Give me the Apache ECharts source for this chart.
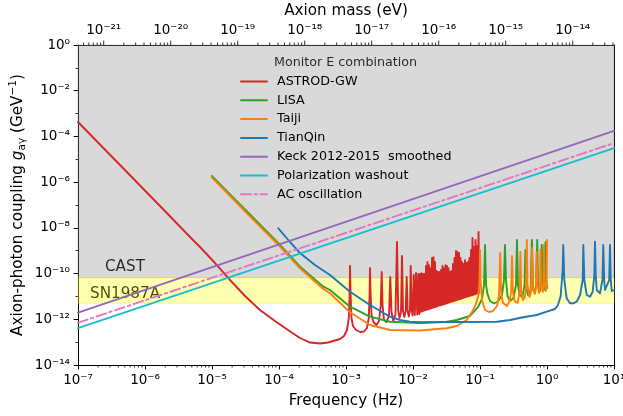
<!DOCTYPE html>
<html><head><meta charset="utf-8">
<script src="https://cdn.jsdelivr.net/npm/echarts@6/dist/echarts.min.js"></script>
<style>html,body{margin:0;padding:0;background:#fff}#c{width:623px;height:416px}</style>
</head><body><div id="c"></div>
<script>
const FONT = 'DejaVu Sans';
// All values are log10: frequency in Hz, coupling in GeV^-1
const freqRange = [-7, 1];
const couplingRange = [-14, 0];
const planckEVs = 4.1357e-15; // axion mass (eV) = h * f
const castLimit = -10.18;     // log10(6.6e-11)
const sn1987aLimit = -11.30;  // log10(5e-12)

const astrodLogF = [-7, -6.373, -5.776, -5.284, -5.179, -4.955, -4.731, -4.507, -4.284, -4.060, -3.866, -3.687, -3.537, -3.388, -3.269, -3.164, -3.090, -3.030, -2.985, -2.958, -2.946, -2.940, -2.933, -2.918, -2.896, -2.851, -2.791, -2.731, -2.687, -2.660, -2.648, -2.642, -2.634, -2.619, -2.590, -2.545, -2.507, -2.481, -2.467, -2.455, -2.433, -2.396, -2.358, -2.339, -2.321, -2.294, -2.261, -2.239, -2.221, -2.201, -2.179, -2.164, -2.149, -2.130, -2.109, -2.094, -2.079, -2.063, -2.045, -2.034, -2.022, -2.006, -1.990, -1.973, -1.955, -1.937, -1.921, -1.907,
  -1.896, -1.885, -1.873, -1.862, -1.851, -1.840, -1.828, -1.817, -1.806, -1.795, -1.784, -1.773, -1.761, -1.750, -1.739, -1.728, -1.716, -1.705, -1.694, -1.683, -1.672, -1.661, -1.649, -1.638, -1.627, -1.616, -1.604, -1.593, -1.582, -1.571, -1.560, -1.549, -1.537, -1.526, -1.515, -1.504, -1.493, -1.482, -1.470, -1.459, -1.448, -1.437, -1.425, -1.414, -1.403, -1.392, -1.381, -1.370, -1.358, -1.347, -1.336, -1.325, -1.313, -1.302, -1.291, -1.280, -1.269, -1.258, -1.246, -1.235, -1.224, -1.213, -1.201, -1.190, -1.179, -1.168, -1.157, -1.146, -1.134, -1.123, -1.112, -1.101, -1.090, -1.079, -1.067, -1.056, -1.045, -1.034, -1.022, -1.011];
const astrodLogG = [-3.369, -5.25, -7.044, -8.531, -8.838, -9.538, -10.281, -10.981, -11.594, -12.075, -12.469, -12.819, -13.016, -13.059, -13.016, -12.928, -12.863, -12.731, -12.469, -11.944, -10.938, -9.669, -10.806, -11.944, -12.294, -12.469, -12.556, -12.534, -12.381, -11.944, -10.938, -9.756, -10.806, -11.813, -12.119, -12.25, -12.075, -11.375, -9.931, -11.375, -12.031, -12.119, -11.856, -10.15, -11.681, -12.075, -11.769, -8.619, -11.594, -11.944, -11.681, -9.231, -11.638, -11.9, -11.638, -10.15, -11.638, -11.878, -11.594, -9.669, -11.55, -11.834, -10.063, -11.813, -9.975, -11.791, -10.019, -11.769,
  -10.02, -11.67, -9.98, -11.65, -10.02, -11.63, -10.02, -11.60, -9.67, -11.58, -9.49, -11.56, -9.63, -11.54, -9.76, -11.52, -9.32, -11.50, -9.28, -11.48, -9.49, -11.46, -9.89, -11.43, -9.93, -11.41, -9.93, -11.39, -9.84, -11.37, -9.67, -11.35, -9.76, -11.33, -9.63, -11.31, -9.67, -11.29, -9.76, -11.27, -9.93, -11.24, -9.89, -11.22, -9.58, -11.20, -9.32, -11.18, -9.01, -11.16, -9.06, -11.14, -9.10, -11.12, -9.32, -11.10, -9.49, -11.07, -9.58, -11.05, -9.41, -11.03, -9.54, -11.01, -9.49, -10.99, -9.32, -10.97, -8.97, -10.95, -8.44, -10.93, -8.84, -10.91, -8.53, -10.88, -8.79, -10.86, -8.18, -10.84];

const lisaLogF = [-5.004, -4.731, -4.433, -3.985, -3.687, -3.339, -3.239, -2.940, -2.642, -2.343, -1.896, -1.497, -1.348, -1.149, -1.030, -0.970, -0.940, -0.925, -0.910, -0.888, -0.851, -0.791, -0.731, -0.672, -0.642, -0.627, -0.612, -0.590, -0.552, -0.500, -0.463, -0.448, -0.433, -0.410, -0.366, -0.336, -0.322, -0.309, -0.284, -0.246, -0.225, -0.209, -0.179, -0.160, -0.146, -0.134, -0.104, -0.090, -0.079, -0.067, -0.045, -0.030, -0.021, -0.010, 0.0];
const lisaLogG = [-5.731, -6.541, -7.416, -8.75, -9.699, -10.574, -10.719, -11.449, -11.887, -12.106, -12.163, -12.106, -12.031, -11.856, -11.463, -11.113, -10.5, -8.75, -10.5, -10.894, -11.2, -11.309, -11.222, -10.938, -10.281, -8.75, -10.281, -10.981, -11.2, -11.069, -10.5, -8.531, -10.5, -10.938, -11.025, -10.5, -8.969, -10.631, -10.938, -10.719, -8.531, -10.631, -10.85, -10.369, -8.531, -10.456, -10.763, -10.281, -8.75, -10.369, -10.719, -10.194, -8.619, -10.281, -10.631];

const taijiLogF = [-5.004, -4.731, -4.433, -3.985, -3.687, -3.339, -3.239, -2.940, -2.642, -2.343, -1.896, -1.497, -1.348, -1.199, -1.119, -1.060, -1.022, -1.007, -1.0, -0.991, -0.970, -0.925, -0.866, -0.806, -0.746, -0.716, -0.699, -0.684, -0.657, -0.597, -0.552, -0.534, -0.522, -0.510, -0.485, -0.440, -0.410, -0.397, -0.385, -0.358, -0.328, -0.313, -0.301, -0.291, -0.261, -0.239, -0.222, -0.209, -0.179, -0.164, -0.155, -0.145, -0.119, -0.104, -0.097, -0.088, -0.063, -0.052, -0.046, -0.039, -0.015, -0.006, 0.0];
const taijiLogG = [-5.788, -6.606, -7.503, -8.816, -9.769, -10.675, -10.863, -11.694, -12.25, -12.469, -12.491, -12.394, -12.294, -12.031, -11.681, -11.331, -10.938, -10.281, -8.969, -10.281, -11.156, -11.594, -11.681, -11.638, -11.419, -10.938, -9.1, -10.85, -11.288, -11.419, -11.156, -10.719, -9.231, -10.719, -11.2, -11.288, -10.85, -9.056, -10.806, -11.156, -11.025, -10.5, -8.531, -10.5, -11.025, -10.806, -8.881, -10.719, -10.894, -10.5, -9.056, -10.5, -10.85, -10.5, -8.969, -10.456, -10.806, -10.369, -8.75, -10.369, -10.763, -10.281, -8.531];

const tianqinLogF = [-4.010, -3.836, -3.687, -3.463, -3.239, -2.940, -2.642, -2.343, -2.194, -2.045, -1.896, -1.299, -0.746, -0.552, -0.354, -0.154, -0.004, 0.119, 0.164, 0.204, 0.234, 0.243, 0.258, 0.294, 0.343, 0.393, 0.443, 0.493, 0.533, 0.542, 0.557, 0.593, 0.642, 0.682, 0.707, 0.716, 0.728, 0.742, 0.791, 0.828, 0.840, 0.854, 0.866, 0.891, 0.928, 0.940, 0.952, 0.966, 1.0];
const tianqinLogG = [-8.019, -8.619, -9.1, -9.625, -10.063, -10.793, -11.375, -11.887, -12.031, -12.106, -12.132, -12.119, -12.106, -12.031, -11.913, -11.813, -11.668, -11.55, -11.375, -10.981, -9.844, -8.75, -10.281, -11.082, -11.301, -11.301, -11.231, -10.938, -10.281, -8.75, -10.281, -10.938, -11.012, -10.793, -10.063, -8.606, -10.063, -10.719, -10.863, -10.281, -8.75, -10.281, -10.719, -10.793, -10.281, -8.75, -10.281, -10.763, -10.719];

const keckLogF = [-7, 1];
const keckLogG = [-11.71, -3.76];
const washoutLogF = [-7, 1];
const washoutLogG = [-12.39, -4.51];
const acLogF = [-7, 1];
const acLogG = [-12.15, -4.29];

const seriesNames = ['ASTROD-GW', 'LISA', 'Taiji', 'TianQin', 'Keck 2012-2015  smoothed', 'Polarization washout', 'AC oscillation'];
const seriesColors = ['#d62728', '#2ca02c', '#ff7f0e', '#1f77b4', '#9467bd', '#17becf', '#e377c2'];
const legendTitle = 'Monitor E combination';
const bandLabels = ['CAST', 'SN1987A'];

// minor tick helpers (axis decoration)
const minorMults = [2, 3, 4, 5, 6, 7, 8, 9];

const SUP = {'-': '\u207B', '0': '\u2070', '1': '\u00B9', '2': '\u00B2', '3': '\u00B3', '4': '\u2074', '5': '\u2075', '6': '\u2076', '7': '\u2077', '8': '\u2078', '9': '\u2079'};
function pow10Label(e) { return '10' + String(e).split('').map(c => SUP[c]).join(''); }
function zip(a, b) { return a.map((v, i) => [v, b[i]]); }

const massShift = Math.log10(planckEVs);
const massRange = [freqRange[0] + massShift, freqRange[1] + massShift];

const freqMinor = [];
for (let d = freqRange[0]; d < freqRange[1]; d++) minorMults.forEach(m => freqMinor.push([d + Math.log10(m), 0, 2.5]));
const massTicks = [];
for (let d = Math.floor(massRange[0]); d <= Math.ceil(massRange[1]); d++) {
  if (d >= massRange[0] && d <= massRange[1]) massTicks.push([d, 0, 4.4]);
  minorMults.forEach(m => { const v = d + Math.log10(m); if (v > massRange[0] && v < massRange[1]) massTicks.push([v, 0, 2.5]); });
}

const chart = echarts.init(document.getElementById('c'), null, {renderer: 'canvas'});
const axisLine = {show: true, onZero: false, lineStyle: {color: '#000', width: 1}};
const tickStyle = {show: true, length: 4.4, lineStyle: {color: '#000', width: 1}};
const labelStyle = {color: '#000', fontFamily: FONT, fontSize: 13.5};

function lineSeries(i, fx, gy, extra) {
  return {
    type: 'line', name: seriesNames[i], data: zip(fx, gy), symbol: 'none', showSymbol: false,
    lineStyle: Object.assign({color: seriesColors[i], width: 1.9, join: 'round', cap: 'round'}, extra || {}),
    itemStyle: {color: seriesColors[i]}, silent: true, animation: false, clip: true, z: 3
  };
}

function tickRenderer(side) {
  return function (params, api) {
    const x = api.coord([api.value(0), 0])[0];
    const cs = params.coordSys;
    const len = api.value(2);
    const y = side === 'bottom' ? cs.y + cs.height : cs.y;
    const y2 = side === 'bottom' ? y + len : y - len;
    return {type: 'line', shape: {x1: x, y1: y, x2: x, y2: y2}, style: {stroke: '#000', lineWidth: 0.8}};
  };
}

const option = {
  animation: false,
  backgroundColor: '#fff',
  grid: {left: 78, right: 9, top: 45, bottom: 51, containLabel: false, outerBoundsMode: 'none'},
  xAxis: [
    {type: 'value', min: freqRange[0], max: freqRange[1], interval: 1, position: 'bottom',
     name: 'Frequency (Hz)', nameLocation: 'middle', nameGap: 29,
     nameTextStyle: {color: '#000', fontFamily: FONT, fontSize: 15.2},
     axisLine: axisLine, axisTick: tickStyle, splitLine: {show: false},
     axisLabel: Object.assign({margin: 8, formatter: v => pow10Label(Math.round(v))}, labelStyle)},
    {type: 'value', min: massRange[0], max: massRange[1], splitNumber: 8, position: 'top',
     name: 'Axion mass (eV)', nameLocation: 'middle', nameGap: 25,
     nameTextStyle: {color: '#000', fontFamily: FONT, fontSize: 15.2},
     axisLine: axisLine, axisTick: {show: false}, splitLine: {show: false},
     axisLabel: Object.assign({margin: 8, showMinLabel: false, showMaxLabel: false,
       formatter: v => Math.abs(v - Math.round(v)) < 1e-6 ? pow10Label(Math.round(v)) : ''}, labelStyle)}
  ],
  yAxis: [
    {type: 'value', min: couplingRange[0], max: couplingRange[1], interval: 2, position: 'left',
     name: '{n|Axion-photon coupling }{i|g}{s|a\u03B3}{n| (GeV}{p|\u22121}{n|)}',
     nameLocation: 'middle', nameGap: 50, nameRotate: 90, nameMoveOverlap: false,
     nameTextStyle: {color: '#000', fontFamily: FONT, fontSize: 15.2,
       rich: {n: {fontFamily: FONT, fontSize: 15.2, lineHeight: 20, color: '#000'},
              i: {fontFamily: FONT, fontSize: 15.2, fontStyle: 'italic', lineHeight: 20, color: '#000'},
              s: {fontFamily: FONT, fontSize: 10.6, lineHeight: 14, verticalAlign: 'bottom', color: '#000'},
              p: {fontFamily: FONT, fontSize: 10.6, lineHeight: 10, verticalAlign: 'top', color: '#000'}}},
     axisLine: axisLine, axisTick: tickStyle, splitLine: {show: false},
     minorTick: {show: true, splitNumber: 2, length: 2.5, lineStyle: {color: '#000', width: 0.8}},
     axisLabel: Object.assign({margin: 8, formatter: v => pow10Label(Math.round(v))}, labelStyle)},
    {type: 'value', min: couplingRange[0], max: couplingRange[1], position: 'right',
     axisLine: axisLine, axisTick: {show: false}, axisLabel: {show: false}, splitLine: {show: false}}
  ],
  legend: {
    data: seriesNames, orient: 'vertical', left: 240, top: 75, padding: 0, itemWidth: 26, itemHeight: 14, itemGap: 5.8,
    selectedMode: false, itemStyle: {opacity: 0},
    textStyle: {color: '#000', fontFamily: FONT, fontSize: 12.7, padding: [0, 0, 0, 5]}
  },
  graphic: [
    {type: 'text', left: 274, top: 56, style: {text: legendTitle, fill: '#000', font: '12.7px "DejaVu Sans"'}},
    {type: 'text', left: 105, top: 260, style: {text: bandLabels[0], fill: '#000', font: '15.2px "DejaVu Sans"'}},
    {type: 'text', left: 90, top: 287, style: {text: bandLabels[1], fill: '#000', font: '15.2px "DejaVu Sans"'}}
  ],
  series: [
    {type: 'line', name: 'bands', data: [], z: 1, silent: true, animation: false,
     markArea: {silent: true, label: {show: false}, data: [
       [{xAxis: freqRange[0], yAxis: castLimit, itemStyle: {color: 'rgba(128,128,128,0.3)', borderColor: 'rgba(128,128,128,0.3)', borderWidth: 1}},
        {xAxis: freqRange[1], yAxis: couplingRange[1]}],
       [{xAxis: freqRange[0], yAxis: sn1987aLimit, itemStyle: {color: 'rgba(255,255,0,0.3)', borderColor: 'rgba(255,230,0,0.35)', borderWidth: 1}},
        {xAxis: freqRange[1], yAxis: castLimit}]
     ]}},
    lineSeries(0, astrodLogF, astrodLogG),
    lineSeries(1, lisaLogF, lisaLogG),
    lineSeries(2, taijiLogF, taijiLogG),
    lineSeries(3, tianqinLogF, tianqinLogG),
    lineSeries(4, keckLogF, keckLogG),
    lineSeries(5, washoutLogF, washoutLogG),
    lineSeries(6, acLogF, acLogG, {type: [10, 3.5, 2.5, 3.5]}),
    {type: 'custom', xAxisIndex: 0, yAxisIndex: 0, silent: true, clip: false, z: 6, animation: false,
     data: freqMinor, renderItem: tickRenderer('bottom')},
    {type: 'custom', xAxisIndex: 1, yAxisIndex: 0, silent: true, clip: false, z: 6, animation: false,
     data: massTicks, renderItem: tickRenderer('top')}
  ]
};
chart.setOption(option);
</script>
</body></html>
